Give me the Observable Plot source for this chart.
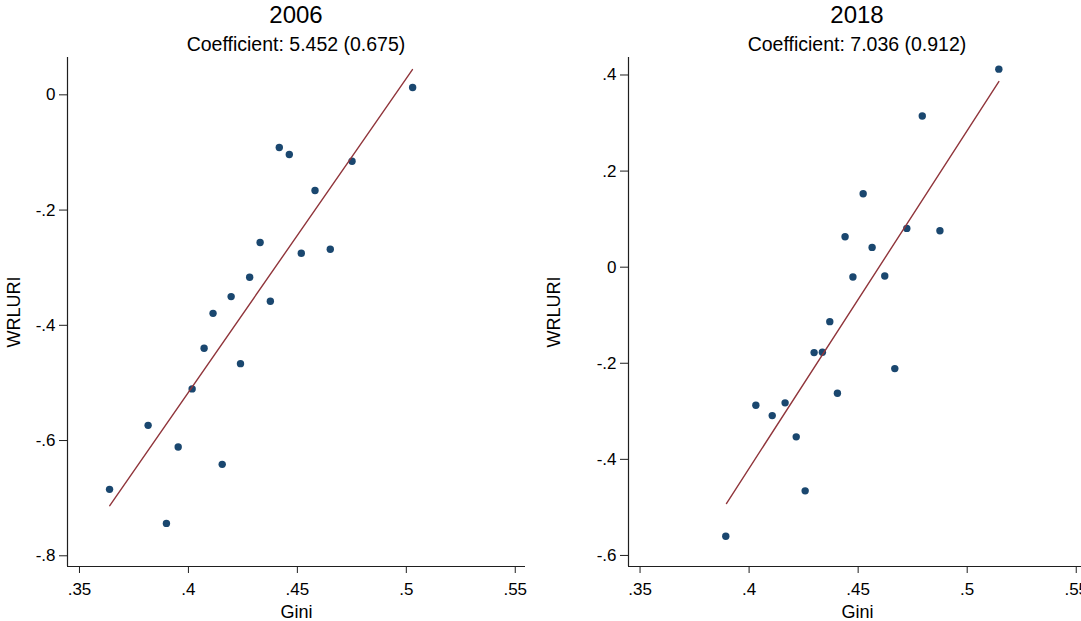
<!DOCTYPE html>
<html>
<head>
<meta charset="utf-8">
<script src="https://cdn.jsdelivr.net/npm/d3@7"></script>
<script src="https://cdn.jsdelivr.net/npm/@observablehq/plot@0.6"></script>
<style>
  html, body { margin: 0; padding: 0; background: #fff; overflow: hidden; }
  #wrap { position: relative; width: 1081px; height: 621px; overflow: hidden; background: #fff;
          font-family: "Liberation Sans", Arial, sans-serif; color: #000; }
  .panel { position: absolute; top: 0; }
  .head { position: relative; height: 56px; }
  .title, .subtitle { position: absolute; text-align: center; white-space: nowrap; }
  .title { font-size: 24px; line-height: 24px; top: 3px; }
  .subtitle { font-size: 19.5px; line-height: 19.5px; top: 34.5px; }
  svg { display: block; overflow: visible; }
  #wrap svg text { font-size: 17px !important; font-family: "Liberation Sans", Arial, sans-serif !important; }
  #wrap svg g[aria-label="x-axis label"] text,
  #wrap svg g[aria-label="y-axis label"] text { font-size: 18px !important; }
</style>
</head>
<body>
<div id="wrap"></div>
<script>
// ---- data ----
const gini2006 = [0.3638, 0.3815, 0.3899, 0.3953, 0.4017, 0.4072, 0.4113, 0.4155, 0.4196, 0.4239,
                  0.4281, 0.4329, 0.4376, 0.4417, 0.4463, 0.4518, 0.4581, 0.4651, 0.4751, 0.5029];
const wrluri2006 = [-0.6847, -0.5736, -0.7438, -0.6111, -0.5104, -0.4399, -0.3792, -0.6413, -0.3502, -0.4665,
                    -0.3167, -0.2564, -0.3583, -0.0915, -0.1036, -0.2750, -0.1661, -0.2681, -0.1153, 0.0127];
const fitGini2006 = [0.3639, 0.5028];
const fitWrluri2006 = [-0.713, 0.0439];

const gini2018 = [0.3893, 0.4031, 0.4106, 0.4165, 0.4216, 0.4257, 0.4298, 0.4336, 0.4370, 0.4405,
                  0.4440, 0.4476, 0.4523, 0.4564, 0.4622, 0.4668, 0.4723, 0.4794, 0.4875, 0.5145];
const wrluri2018 = [-0.560, -0.2874, -0.3089, -0.2824, -0.3532, -0.4655, -0.1778, -0.1772, -0.1134, -0.2625,
                    0.0634, -0.0204, 0.1529, 0.0412, -0.0183, -0.2111, 0.0807, 0.3145, 0.0759, 0.4122];
const fitGini2018 = [0.3896, 0.5145];
const fitWrluri2018 = [-0.4919, 0.3864];

const xTicks = [0.35, 0.4, 0.45, 0.5, 0.55];
const xTickLabels = [".35", ".4", ".45", ".5", ".55"];
const yTicks2006 = [0, -0.2, -0.4, -0.6, -0.8];
const yTickLabels2006 = ["0", "-.2", "-.4", "-.6", "-.8"];
const yTicks2018 = [0.4, 0.2, 0, -0.2, -0.4, -0.6];
const yTickLabels2018 = [".4", ".2", "0", "-.2", "-.4", "-.6"];

const titles = ["2006", "2018"];
const subtitles = ["Coefficient: 5.452 (0.675)", "Coefficient: 7.036 (0.912)"];
const xLabel = "Gini";
const yLabel = "WRLURI";

// ---- build ----
const NAVY = "#1a476f", MAROON = "#90353b", AXIS = "#1f1f1f";

function labeler(ticks, labels) {
  const m = new Map(ticks.map((t, i) => [t, labels[i]]));
  return d => m.get(d);
}

function panel({left, width, marginLeft, marginRight, xDomain, yDomain, gini, wrluri, fx, fy,
                yTicks, yTickLabels, title, subtitle}) {
  const pts = gini.map((g, i) => ({x: g, y: wrluri[i]}));
  const fit = fx.map((g, i) => ({x: g, y: fy[i]}));
  const div = document.createElement("div");
  div.className = "panel";
  div.style.left = left + "px";
  div.style.width = width + "px";
  const head = document.createElement("div");
  head.className = "head";
  const t = document.createElement("div");
  t.className = "title";
  t.textContent = title;
  const s = document.createElement("div");
  s.className = "subtitle";
  s.textContent = subtitle;
  for (const el of [t, s]) { el.style.left = marginLeft + "px"; el.style.width = (width - marginLeft - marginRight) + "px"; }
  head.append(t, s);
  div.append(head);

  const chart = Plot.plot({
    width, height: 565,
    marginLeft, marginRight, marginTop: 1, marginBottom: 55,
    style: {fontFamily: '"Liberation Sans", Arial, sans-serif', fontSize: "17px", color: AXIS, background: "#fff"},
    x: {domain: xDomain},
    y: {domain: yDomain},
    marks: [
      Plot.axisX({ticks: xTicks, tickFormat: labeler(xTicks, xTickLabels), tickSize: 7, tickPadding: 9,
                  fontSize: 17, fill: "#000", label: xLabel, labelAnchor: "center", labelOffset: 51, labelArrow: "none"}),
      Plot.axisY({ticks: yTicks, tickFormat: labeler(yTicks, yTickLabels), tickSize: 8, tickPadding: 4,
                  fontSize: 17, fill: "#000", label: yLabel, labelAnchor: "center", labelOffset: marginLeft - 7, labelArrow: "none"}),
      Plot.ruleX([xDomain[0]], {stroke: AXIS, strokeWidth: 1.2}),
      Plot.ruleY([yDomain[0]], {stroke: AXIS, strokeWidth: 1.2}),
      Plot.dot(pts, {x: "x", y: "y", r: 3.7, fill: NAVY, stroke: "none"}),
      Plot.line(fit, {x: "x", y: "y", stroke: MAROON, strokeWidth: 1.4})
    ]
  });
  div.append(chart);
  return div;
}

const wrap = document.getElementById("wrap");
wrap.append(panel({
  left: 0, width: 540, marginLeft: 67, marginRight: 15,
  xDomain: [0.3445, 0.5547], yDomain: [-0.8186, 0.0648],
  gini: gini2006, wrluri: wrluri2006, fx: fitGini2006, fy: fitWrluri2006,
  yTicks: yTicks2006, yTickLabels: yTickLabels2006, title: titles[0], subtitle: subtitles[0]
}));
wrap.append(panel({
  left: 540, width: 561, marginLeft: 88, marginRight: 15,
  xDomain: [0.3447, 0.5547], yDomain: [-0.623, 0.4364],
  gini: gini2018, wrluri: wrluri2018, fx: fitGini2018, fy: fitWrluri2018,
  yTicks: yTicks2018, yTickLabels: yTickLabels2018, title: titles[1], subtitle: subtitles[1]
}));
</script>
</body>
</html>
